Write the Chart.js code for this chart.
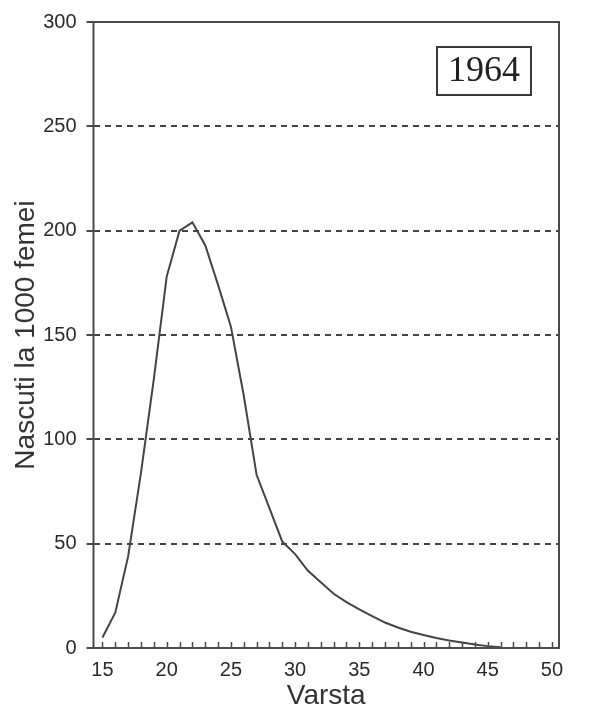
<!DOCTYPE html>
<html>
<head>
<meta charset="utf-8">
<script src="https://cdn.jsdelivr.net/npm/chart.js@4"></script>
<style>
  html, body { margin: 0; padding: 0; background: #fff; }
  #wrap { width: 612px; height: 715px; position: relative; }
</style>
</head>
<body>
<div id="wrap"><canvas id="mycanvas"></canvas></div>
<script>
// varsta (ani) si nascuti la 1000 femei, 1964
var ages = [15, 16, 17, 18, 19, 20, 21, 22, 23, 24, 25, 26, 27, 28, 29, 30,
            31, 32, 33, 34, 35, 36, 37, 38, 39, 40, 41, 42, 43, 44, 45, 46];
var births = [5, 17, 44, 84, 129, 178, 200, 204, 193, 174, 154, 121, 83, 67, 51, 45,
              37, 31.5, 26, 22, 18.5, 15.3, 12.2, 9.8, 7.8, 6.2, 4.8, 3.6, 2.6, 1.7, 0.9, 0.4];
var xTicks = [15, 20, 25, 30, 35, 40, 45, 50];
var yTicks = [0, 50, 100, 150, 200, 250, 300];
var yearLabel = "1964";
var xTitle = "Varsta";
var yTitle = "Nascuti la 1000 femei";

var points = [];
for (var i in ages) {
	points.push({x: ages[i], y: births[i]});
}

var textFont = "'Liberation Sans', Arial, sans-serif";

// chenar, liniute pe axa x (fiecare an) si caseta cu anul
var framePlugin = {
	id: 'frame',
	afterDatasetsDraw: function(chart) {
		var ctx = chart.ctx;
		var a = chart.chartArea;
		var x = chart.scales.x;
		ctx.save();
		ctx.strokeStyle = '#4a4a4a';
		ctx.lineWidth = 2;
		ctx.strokeRect(a.left, a.top, a.right - a.left, a.bottom - a.top);

		ctx.beginPath();
		for (var v = xTicks[0]; v <= xTicks[xTicks.length - 1]; v++) {
			var px = Math.round(x.getPixelForValue(v)) + 0.5;
			ctx.moveTo(px, a.bottom);
			ctx.lineTo(px, a.bottom - 6);
		}
		ctx.lineWidth = 1.5;
		ctx.stroke();

		var bw = 94, bh = 48;
		var bx = a.right - 28 - bw, by = a.top + 25;
		ctx.lineWidth = 2;
		ctx.strokeStyle = '#3a3a3a';
		ctx.strokeRect(bx, by, bw, bh);
		ctx.fillStyle = '#222';
		ctx.font = "36px 'Liberation Serif', 'Times New Roman', serif";
		ctx.textAlign = 'center';
		ctx.textBaseline = 'middle';
		ctx.fillText(yearLabel, bx + bw / 2, by + bh / 2 + 1);
		ctx.restore();
	}
};

var chartdata = {
	datasets: [
		{
			label: yearLabel,
			data: points,
			fill: false,
			tension: 0,
			borderColor: '#444',
			borderWidth: 2,
			pointRadius: 0
		}
	]
};

var ctx = document.getElementById('mycanvas');

var LineGraph = new Chart(ctx, {
	type: 'line',
	data: chartdata,
	plugins: [framePlugin],
	options: {
		responsive: true,
		maintainAspectRatio: false,
		animation: false,
		layout: { padding: { top: 20, right: 53, bottom: 0, left: 0 } },
		plugins: {
			legend: { display: false },
			tooltip: { enabled: false }
		},
		scales: {
			x: {
				type: 'linear',
				min: 14.3,
				max: 50.55,
				afterBuildTicks: function(s) {
					s.ticks = xTicks.map(function(v) { return {value: v}; });
				},
				afterFit: function(s) { s.height = 67; },
				grid: { display: false },
				border: { display: false },
				ticks: {
					color: '#2a2a2a',
					font: { family: textFont, size: 20 },
					padding: 2,
					maxRotation: 0,
					autoSkip: false
				},
				title: {
					display: true,
					text: xTitle,
					color: '#333',
					font: { family: textFont, size: 28 },
					padding: { top: 0, bottom: 2 }
				}
			},
			y: {
				min: 0,
				max: 300,
				afterBuildTicks: function(s) {
					s.ticks = yTicks.map(function(v) { return {value: v}; });
				},
				afterFit: function(s) { s.width = 93.5; },
				grid: {
					color: function(c) {
						return (c.tick && (c.tick.value === 0 || c.tick.value === 300)) ? 'rgba(0,0,0,0)' : '#444';
					},
					lineWidth: 2,
					tickLength: 7,
					tickColor: '#4a4a4a',
					tickWidth: 2,
					tickBorderDash: []
				},
				border: { display: false, dash: [6, 5] },
				ticks: {
					color: '#2a2a2a',
					font: { family: textFont, size: 20 },
					padding: 10
				},
				title: {
					display: true,
					text: yTitle,
					color: '#333',
					font: { family: textFont, size: 28 },
					padding: { top: 9, bottom: 0 }
				}
			}
		}
	}
});
</script>
</body>
</html>
